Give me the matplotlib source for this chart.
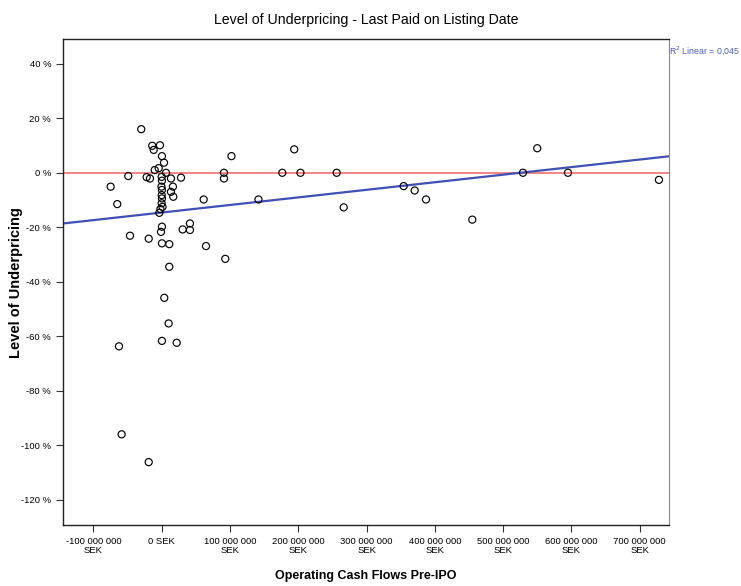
import numpy as np
import matplotlib
matplotlib.use('Agg')
import matplotlib.pyplot as plt

# operating cash flows pre-IPO (million SEK) and level of underpricing (%)
cash_flows = [-74.7, -65.0, -62.5, -58.6, -48.9, -46.4, -29.9, -22.0, -17.1, -19.0,
              -19.0, -13.8, -11.7, -2.5, 0.4, 3.4, -10.2, -4.4, 6.3, 0.0,
              0.4, -0.3, 0.4, 0.0, 0.4, 0.0, 1.2, -1.8, -3.5, 0.4,
              -1.0, 0.4, 11.1, 11.1, 3.8, 10.2, 0.4, 22.0, 13.6, 16.5,
              13.6, 17.0, 28.3, 30.7, 41.4, 41.4, 61.5, 64.9, 91.2, 91.2,
              93.1, 102.2, 141.7, 176.6, 194.1, 203.2, 256.2, 266.5, 354.3, 370.4,
              387.0, 454.8, 529.0, 549.9, 594.9, 728.1]
underpricing = [-5.1, -11.5, -63.7, -96.0, -1.2, -23.1, 16.0, -1.6, -2.1, -24.2,
                -106.2, 9.9, 8.4, 10.1, 6.1, 3.7, 1.0, 1.7, 0.0, -1.5,
                -2.9, -5.1, -6.3, -8.2, -9.4, -11.2, -12.5, -13.3, -14.7, -19.8,
                -21.7, -25.9, -26.2, -34.5, -45.9, -55.3, -61.7, -62.4, -2.1, -5.1,
                -7.0, -8.8, -1.8, -20.8, -18.6, -21.0, -9.8, -26.9, 0.0, -2.1,
                -31.6, 6.1, -9.8, 0.0, 8.6, 0.0, 0.0, -12.7, -4.9, -6.5,
                -9.8, -17.2, 0.0, 9.0, 0.0, -2.6]

# fitted linear line (intercept %, slope % per million SEK)
fit_intercept = -14.6
fit_slope = 0.0278
r2_text = 'R$^2$ Linear = 0,045'

x_ticks = [-100, 0, 100, 200, 300, 400, 500, 600, 700]
x_labels = ['-100 000 000\nSEK', '0 SEK', '100 000 000\nSEK', '200 000 000\nSEK',
            '300 000 000\nSEK', '400 000 000\nSEK', '500 000 000\nSEK',
            '600 000 000\nSEK', '700 000 000\nSEK']
y_ticks = [40, 20, 0, -20, -40, -60, -80, -100, -120]
y_labels = ['40 %', '20 %', '0 %', '-20 %', '-40 %', '-60 %', '-80 %', '-100 %', '-120 %']

plt.rcParams['font.family'] = ['Liberation Sans', 'DejaVu Sans']

fig = plt.figure(figsize=(7.41, 5.86), dpi=100)
ax = fig.add_axes([0.085, 0.104, 0.818, 0.829])

xmin, xmax = -144.5, 743
ax.set_xlim(xmin, xmax)
ax.set_ylim(-129.3, 49)

# reference line at zero and the fit line
ax.axhline(0, color='#f48484', lw=1.4, zorder=1)
xs = np.array([xmin, xmax])
ax.plot(xs, fit_intercept + fit_slope * xs, color='#3f51b5', lw=1.6, zorder=2)

ax.scatter(cash_flows, underpricing, s=26, facecolors='none',
           edgecolors='black', linewidths=0.85, zorder=3)

ax.set_xticks(x_ticks)
ax.set_xticklabels(x_labels, fontsize=6.8, linespacing=1.0)
ax.set_yticks(y_ticks)
ax.set_yticklabels(y_labels, fontsize=6.8)
ax.tick_params(direction='out', length=5, width=0.8, color='#333333')

for side in ['left', 'bottom', 'top']:
    ax.spines[side].set_color('#222222')
    ax.spines[side].set_linewidth(1.0)
ax.spines['right'].set_color('#888888')

ax.set_title('Level of Underpricing - Last Paid on Listing Date', fontsize=10.2, pad=11)
ax.set_xlabel('Operating Cash Flows Pre-IPO', fontsize=9, fontweight='bold', labelpad=11)
ax.set_ylabel('Level of Underpricing', fontsize=10.5, fontweight='bold')
ax.yaxis.set_label_coords(-0.066, 0.5)

ax.text(1.0, 0.99, r2_text, transform=ax.transAxes, fontsize=6.3,
        color='#4a5fc0', ha='left', va='top')

fig.savefig('out.png', dpi=100)
